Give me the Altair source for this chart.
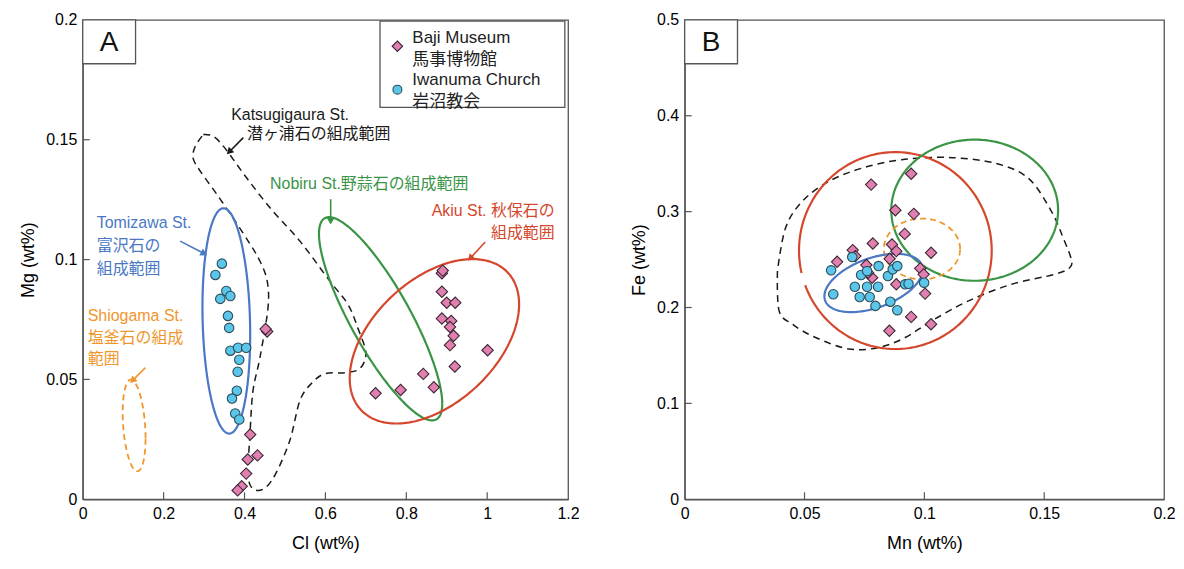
import altair as alt
import pandas as pd
import numpy as np

FONT = "'Liberation Sans', 'Noto Sans CJK JP', sans-serif"

# ---------------- Panel A data (Cl vs Mg, wt%) ----------------
baji_a_cl = [0.456, 0.452, 0.414, 0.432, 0.408, 0.404, 0.393, 0.383, 0.888, 0.890, 0.888, 0.900,
             0.921, 0.888, 0.911, 0.908, 0.917, 0.908, 1.001, 0.920, 0.842, 0.868, 0.786, 0.724]
baji_a_mg = [0.0700, 0.0710, 0.0270, 0.0183, 0.0166, 0.0107, 0.0054, 0.0037, 0.0943, 0.0954, 0.0866, 0.0820,
             0.0820, 0.0754, 0.0744, 0.0719, 0.0682, 0.0643, 0.0622, 0.0554, 0.0523, 0.0467, 0.0456, 0.0442]
iwa_a_cl = [0.344, 0.328, 0.355, 0.365, 0.340, 0.359, 0.362, 0.365, 0.384, 0.404, 0.387, 0.383,
            0.381, 0.369, 0.377, 0.387]
iwa_a_mg = [0.0983, 0.0936, 0.0869, 0.0848, 0.0836, 0.0765, 0.0715, 0.0620, 0.0632, 0.0632, 0.0582, 0.0532,
            0.0453, 0.0420, 0.0358, 0.0333]

# Katsugigaura composition range outline (panel A)
kat_a_cl = [0.298, 0.323, 0.352, 0.406, 0.470, 0.537, 0.611, 0.655, 0.680, 0.700, 0.685, 0.648, 0.599,
            0.567, 0.537, 0.512, 0.475, 0.446, 0.419, 0.409, 0.414, 0.421, 0.438, 0.458, 0.456, 0.438,
            0.414, 0.377, 0.335, 0.291, 0.273, 0.278, 0.298]
kat_a_mg = [0.1522, 0.1514, 0.1464, 0.1339, 0.1202, 0.1077, 0.0910, 0.0815, 0.0715, 0.0611, 0.0545, 0.0528,
            0.0524, 0.0486, 0.0412, 0.0245, 0.0100, 0.0042, 0.0046, 0.0108, 0.0287, 0.0453, 0.0590, 0.0798,
            0.0911, 0.0994, 0.1064, 0.1160, 0.1264, 0.1368, 0.1422, 0.1472, 0.1522]

# ellipses: name, cx, cy, rx, ry, rho
ell_a_name = ["Tomizawa", "Shiogama", "Nobiru", "Akiu"]
ell_a_cx = [0.355, 0.127, 0.7365, 0.8695]
ell_a_cy = [0.0744, 0.0308, 0.0753, 0.0659]
ell_a_rx = [0.059, 0.0283, 0.1524, 0.2094]
ell_a_ry = [0.047, 0.0191, 0.0424, 0.0343]
ell_a_rho = [-0.12, -0.28, -0.835, 0.45]

ann_a_text = ["Katsugigaura St.", "潜ヶ浦石の組成範囲", "Nobiru St.野蒜石の組成範囲", "Tomizawa St.", "富沢石の",
              "組成範囲", "Shiogama St.", "塩釜石の組成", "範囲"]
ann_a_x = [0.367, 0.406, 0.463, 0.0345, 0.0345, 0.0345, 0.0123, 0.0123, 0.0123]
ann_a_y = [0.1605, 0.1522, 0.1314, 0.1152, 0.1056, 0.0960, 0.0765, 0.0674, 0.0586]
ann_a_grp = ["Katsugigaura", "Katsugigaura", "Nobiru", "Tomizawa", "Tomizawa", "Tomizawa",
             "Shiogama", "Shiogama", "Shiogama"]
ann_r_text = ["Akiu St. 秋保石の", "組成範囲"]
ann_r_x = [1.167, 1.167]
ann_r_y = [0.1202, 0.1110]

arr_grp = ["Katsugigaura", "Nobiru", "Akiu", "Tomizawa", "Shiogama"]
arr_tx = [0.397, 0.613, 0.995, 0.241, 0.155]
arr_ty = [0.1509, 0.1252, 0.1073, 0.1077, 0.0549]
arr_hx = [0.362, 0.613, 0.958, 0.300, 0.123]
arr_hy = [0.1449, 0.1160, 0.1005, 0.1025, 0.0495]

# ---------------- Panel B data (Mn vs Fe, wt%) ----------------
baji_b_mn = [0.0945, 0.0778, 0.0879, 0.0956, 0.0918, 0.0785, 0.0865, 0.0883, 0.1028, 0.0701, 0.0712, 0.0636,
             0.0758, 0.0855, 0.0983, 0.0997, 0.0782, 0.0765, 0.0883, 0.1003, 0.0945, 0.1028, 0.0854]
baji_b_fe = [0.3396, 0.3282, 0.3015, 0.2977, 0.2768, 0.2668, 0.2658, 0.2588, 0.2571, 0.2599, 0.2536, 0.2477,
             0.2443, 0.2508, 0.2408, 0.2346, 0.2311, 0.2363, 0.2242, 0.2145, 0.1902, 0.1826, 0.1757]
iwa_b_mn = [0.0611, 0.0699, 0.0620, 0.0736, 0.0761, 0.0809, 0.0848, 0.0868, 0.0887, 0.0710, 0.0761, 0.0807,
            0.0730, 0.0772, 0.0796, 0.0858, 0.0887, 0.0920, 0.0934, 0.0999]
iwa_b_fe = [0.2388, 0.2526, 0.2138, 0.2339, 0.2380, 0.2432, 0.2328, 0.2398, 0.2432, 0.2217, 0.2217, 0.2217,
            0.2110, 0.2110, 0.2017, 0.2061, 0.1972, 0.2242, 0.2248, 0.2259]

kat_b_mn = [0.0387, 0.0394, 0.0449, 0.0546, 0.0685, 0.0810, 0.0920, 0.1031, 0.1184, 0.1364, 0.1544, 0.1606,
            0.1613, 0.1579, 0.1530, 0.1433, 0.1294, 0.1101, 0.0906, 0.0740, 0.0602, 0.0491, 0.0421, 0.0387]
kat_b_fe = [0.2380, 0.1965, 0.1826, 0.1687, 0.1567, 0.1583, 0.1687, 0.1861, 0.2069, 0.2242, 0.2346, 0.2415,
            0.2502, 0.2727, 0.3004, 0.3350, 0.3506, 0.3565, 0.3542, 0.3454, 0.3316, 0.3108, 0.2831, 0.2380]

ell_b_name = ["Akiu", "Nobiru", "Shiogama", "Tomizawa"]
ell_b_cx = [0.0879, 0.1210, 0.0990, 0.0788]
ell_b_cy = [0.2594, 0.3015, 0.2611, 0.2256]
ell_b_rx = [0.0402, 0.0348, 0.0159, 0.0205]
ell_b_ry = [0.1027, 0.0736, 0.0317, 0.0304]
ell_b_rho = [0.0, 0.0, 0.0, 0.455]

legend_names = ["Baji Museum", "馬事博物館", "Iwanuma Church", "岩沼教会"]

# ---------------- styles ----------------
COLORS = {"Katsugigaura": "#1a1a1a", "Nobiru": "#3a9446", "Akiu": "#d4472c",
          "Tomizawa": "#4a78c4", "Shiogama": "#f0962c"}
DASHED = {"Katsugigaura", "Shiogama"}
PINK, PINK_EDGE = "#e27fb1", "#3a2733"
CYAN, CYAN_EDGE = "#5cc6ea", "#2a4d5a"
FRAME = "#555555"

WA, WB, H = 487, 481, 481


def ellipse_df(cx, cy, rx, ry, rho, t0=0.0, t1=2 * np.pi, n=240):
    t = np.linspace(t0, t1, n)
    return pd.DataFrame({
        "x": cx + rx * np.cos(t),
        "y": cy + ry * (rho * np.cos(t) + np.sqrt(1 - rho ** 2) * np.sin(t)),
        "i": np.arange(n),
    })


def make_panel(width, xdom, ydom, xticks, yticks, xtitle, ytitle, baji, iwa, kat, ells, label,
               extra_layers_fn=None):
    xs = alt.Scale(domain=xdom, nice=False, zero=False)
    ys = alt.Scale(domain=ydom, nice=False, zero=False)
    xax = alt.Axis(values=xticks, format="~g", title=xtitle, ticks=False)
    yax = alt.Axis(values=yticks, format="~g", title=ytitle, ticks=False)
    X = lambda f="x": alt.X(f"{f}:Q", scale=xs, axis=xax)
    Y = lambda f="y": alt.Y(f"{f}:Q", scale=ys, axis=yax)

    layers = []
    # inner ticks
    layers.append(alt.Chart(pd.DataFrame({"x": xticks[1:-1]})).mark_rule(color=FRAME, strokeWidth=1.2)
                  .encode(x=X(), y=alt.value(H), y2=alt.value(H - 7)))
    layers.append(alt.Chart(pd.DataFrame({"y": yticks[1:-1]})).mark_rule(color=FRAME, strokeWidth=1.2)
                  .encode(y=Y(), x=alt.value(0), x2=alt.value(7)))

    # Katsugigaura outline
    kdf = pd.DataFrame({"x": kat[0], "y": kat[1], "i": range(len(kat[0]))})
    layers.append(alt.Chart(kdf).mark_line(color=COLORS["Katsugigaura"], strokeWidth=1.5,
                                           strokeDash=[7, 5], interpolate="cardinal")
                  .encode(x=X(), y=Y(), order="i:Q"))
    for name, df in ells:
        kw = dict(color=COLORS[name], strokeWidth=2.2)
        if name in DASHED:
            kw["strokeDash"] = [6, 4]
            kw["strokeWidth"] = 1.8
        layers.append(alt.Chart(df).mark_line(**kw).encode(x=X(), y=Y(), order="i:Q"))

    if extra_layers_fn:
        layers += extra_layers_fn(X, Y)

    bdf = pd.DataFrame({"x": baji[0], "y": baji[1]})
    idf = pd.DataFrame({"x": iwa[0], "y": iwa[1]})
    layers.append(alt.Chart(bdf).mark_point(shape="diamond", filled=True, fill=PINK, stroke=PINK_EDGE,
                                            strokeWidth=1.1, size=130, opacity=1)
                  .encode(x=X(), y=Y()))
    layers.append(alt.Chart(idf).mark_point(shape="circle", filled=True, fill=CYAN, stroke=CYAN_EDGE,
                                            strokeWidth=1.1, size=90, opacity=1)
                  .encode(x=X(), y=Y()))

    # panel label box
    lw = (xdom[1] - xdom[0]) * 53 / width
    lh = (ydom[1] - ydom[0]) * 44 / H
    box = pd.DataFrame({"x": [xdom[0]], "x2": [xdom[0] + lw], "y": [ydom[1] - lh], "y2": [ydom[1]],
                        "t": [label]})
    layers.append(alt.Chart(box).mark_rect(fill="white", stroke=FRAME, strokeWidth=1.3)
                  .encode(x=X(), x2="x2:Q", y=Y(), y2="y2:Q"))
    layers.append(alt.Chart(box).transform_calculate(cx="(datum.x + datum.x2) / 2", cy="(datum.y + datum.y2) / 2")
                  .mark_text(font=FONT, fontSize=28, color="#111", align="center", baseline="middle", dy=1)
                  .encode(x=X("cx"), y=Y("cy"), text="t:N"))
    return alt.layer(*layers).properties(width=width, height=H)


# ---------- panel A extras: annotations, arrows, legend ----------
def extras_a(X, Y):
    out = []
    grp_dom = list(COLORS.keys())
    grp_rng = [COLORS[k] for k in grp_dom]
    cscale = alt.Scale(domain=grp_dom, range=grp_rng)
    adf = pd.DataFrame({"x": ann_a_x, "y": ann_a_y, "t": ann_a_text, "g": ann_a_grp})
    out.append(alt.Chart(adf).mark_text(font=FONT, fontSize=16, align="left", baseline="middle")
               .encode(x=X(), y=Y(), text="t:N", color=alt.Color("g:N", scale=cscale, legend=None)))
    rdf = pd.DataFrame({"x": ann_r_x, "y": ann_r_y, "t": ann_r_text})
    out.append(alt.Chart(rdf).mark_text(font=FONT, fontSize=16, align="right", baseline="middle",
                                        color=COLORS["Akiu"])
               .encode(x=X(), y=Y(), text="t:N"))
    # arrows
    pxx = WA / 1.2
    pxy = H / 0.2
    ang = []
    for tx, ty, hx, hy in zip(arr_tx, arr_ty, arr_hx, arr_hy):
        dx = (hx - tx) * pxx
        dy = -(hy - ty) * pxy
        ang.append(float(np.degrees(np.arctan2(dx, -dy)) % 360))
    ardf = pd.DataFrame({"x": arr_tx, "y": arr_ty, "x2": arr_hx, "y2": arr_hy, "g": arr_grp, "a": ang})
    out.append(alt.Chart(ardf).mark_rule(strokeWidth=1.6)
               .encode(x=X(), y=Y(), x2="x2:Q", y2="y2:Q",
                       color=alt.Color("g:N", scale=cscale, legend=None)))
    out.append(alt.Chart(ardf).mark_point(shape="triangle-up", filled=True, size=60, opacity=1)
               .encode(x=X("x2"), y=Y("y2"), angle=alt.Angle("a:Q", scale=None),
                       color=alt.Color("g:N", scale=cscale, legend=None)))
    # legend box
    ldf = pd.DataFrame({"x": [0.735], "x2": [1.192], "y": [0.1635], "y2": [0.1995]})
    out.append(alt.Chart(ldf).mark_rect(fill="white", stroke=FRAME, strokeWidth=1.3)
               .encode(x=X(), x2="x2:Q", y=Y(), y2="y2:Q"))
    ltdf = pd.DataFrame({"x": [0.815] * 4, "y": [0.1926, 0.1834, 0.1751, 0.1659], "t": legend_names})
    out.append(alt.Chart(ltdf).mark_text(font=FONT, fontSize=17, align="left", baseline="middle", color="#222")
               .encode(x=X(), y=Y(), text="t:N"))
    out.append(alt.Chart(pd.DataFrame({"x": [0.778], "y": [0.1890]}))
               .mark_point(shape="diamond", filled=True, fill=PINK, stroke=PINK_EDGE, strokeWidth=1.1,
                           size=110, opacity=1).encode(x=X(), y=Y()))
    out.append(alt.Chart(pd.DataFrame({"x": [0.778], "y": [0.1709]}))
               .mark_point(shape="circle", filled=True, fill=CYAN, stroke=CYAN_EDGE, strokeWidth=1.1,
                           size=80, opacity=1).encode(x=X(), y=Y()))
    return out


ells_a = [(n, ellipse_df(cx, cy, rx, ry, r)) for n, cx, cy, rx, ry, r in
          zip(ell_a_name, ell_a_cx, ell_a_cy, ell_a_rx, ell_a_ry, ell_a_rho)]
ells_b = []
for n, cx, cy, rx, ry, r in zip(ell_b_name, ell_b_cx, ell_b_cy, ell_b_rx, ell_b_ry, ell_b_rho):
    if n == "Akiu":
        # small break in the outline on the lower-left side
        ells_b.append((n, ellipse_df(cx, cy, rx, ry, r, np.pi + 0.36, 3 * np.pi + 0.23)))
    else:
        ells_b.append((n, ellipse_df(cx, cy, rx, ry, r)))

panel_a = make_panel(WA, [0, 1.2], [0, 0.2], [0, 0.2, 0.4, 0.6, 0.8, 1.0, 1.2],
                     [0, 0.05, 0.1, 0.15, 0.2], "Cl (wt%)", "Mg (wt%)",
                     (baji_a_cl, baji_a_mg), (iwa_a_cl, iwa_a_mg), (kat_a_cl, kat_a_mg), ells_a, "A",
                     extras_a)
panel_b = make_panel(WB, [0, 0.2], [0, 0.5], [0, 0.05, 0.1, 0.15, 0.2],
                     [0, 0.1, 0.2, 0.3, 0.4, 0.5], "Mn (wt%)", "Fe (wt%)",
                     (baji_b_mn, baji_b_fe), (iwa_b_mn, iwa_b_fe), (kat_b_mn, kat_b_fe), ells_b, "B")

chart = (alt.hconcat(panel_a, panel_b, spacing=50)
         .properties(padding={"left": 11, "top": 2, "right": 0, "bottom": 0})
         .configure_view(stroke=FRAME, strokeWidth=1.3)
         .configure_axis(grid=False, domainColor=FRAME, domainWidth=1.3, labelFont=FONT, labelFontSize=16,
                         labelColor="#000", titleFont=FONT, titleFontSize=18, titleFontWeight="normal",
                         titleColor="#000", labelPadding=6, titlePadding=8, labelFlush=False,
                         labelOverlap=False)
         .configure_axisX(titlePadding=13))

chart.save("out.html", embed_options={"renderer": "svg", "actions": False})
